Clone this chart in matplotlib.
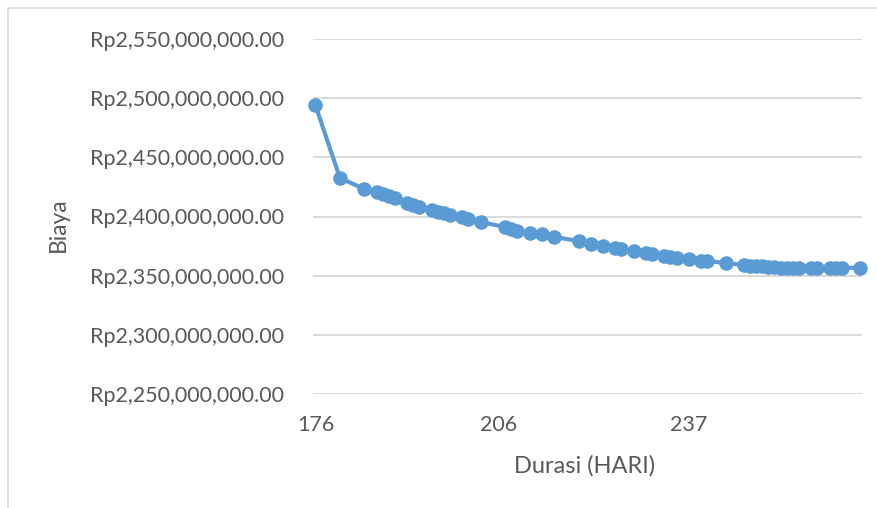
import matplotlib
matplotlib.use("Agg")
import matplotlib.pyplot as plt
from matplotlib.ticker import FuncFormatter, FixedLocator
from matplotlib.patches import Rectangle

durasi = [176, 180, 184, 186, 187, 188, 189, 191, 192, 193, 195, 196, 197, 198,
          200, 201, 203, 207, 208, 209, 211, 213, 215, 219, 221, 223, 225, 226,
          228, 230, 231, 233, 234, 235, 237, 239, 240, 243, 246, 247, 248, 249,
          250, 251, 252, 253, 254, 255, 257, 258, 260, 261, 262, 265]
biaya_juta = [2494.0, 2432.5, 2423.2, 2420.7, 2419.0, 2417.3, 2415.6, 2411.4, 2409.7,
              2408.0, 2405.5, 2403.8, 2403.0, 2401.3, 2399.6, 2397.9, 2395.3, 2391.1,
              2389.4, 2387.7, 2386.0, 2385.2, 2382.7, 2379.3, 2376.8, 2375.1, 2373.4,
              2372.5, 2370.8, 2369.2, 2368.3, 2366.6, 2365.4, 2364.9, 2364.1, 2362.4,
              2362.4, 2360.7, 2359.0, 2358.2, 2358.2, 2357.8, 2357.3, 2357.3, 2356.9,
              2356.5, 2356.5, 2356.5, 2356.5, 2356.5, 2356.5, 2356.5, 2356.5, 2356.8]
biaya = [v * 1e6 for v in biaya_juta]

x_ticks = [176, 206, 237]
y_ticks = [2.25e9, 2.30e9, 2.35e9, 2.40e9, 2.45e9, 2.50e9, 2.55e9]

W, H = 878, 508
fig = plt.figure(figsize=(W / 100, H / 100), dpi=100)
font = ["Lato", "DejaVu Sans"]
txt = "#595959"

ax = fig.add_axes([313 / W, 1 - 394 / H, (862 - 313) / W, (394 - 39) / H])
ax.plot(durasi, biaya, color="#5B9BD5", lw=3.0, marker="o", ms=10.5,
        markeredgewidth=0, solid_capstyle="round", zorder=3, clip_on=False)

ax.set_xlim(175.6, 265.3)
ax.set_ylim(2.25e9, 2.55e9)
ax.yaxis.set_major_locator(FixedLocator(y_ticks))
ax.xaxis.set_major_locator(FixedLocator(x_ticks))
ax.yaxis.set_major_formatter(FuncFormatter(lambda v, p: "Rp{:,.2f}".format(v)))
ax.grid(axis="y", color="#D9D9D9", lw=1.4, zorder=0)
for s in ax.spines.values():
    s.set_visible(False)
ax.tick_params(axis="both", length=0, labelcolor=txt, labelsize=15.5)
ax.tick_params(axis="y", pad=21)
ax.tick_params(axis="x", pad=15)
for lbl in ax.get_xticklabels() + ax.get_yticklabels():
    lbl.set_family(font)

fig.text(58 / W, 1 - 225 / H, "Biaya", rotation=90, ha="center", va="center",
         color=txt, fontsize=16.5, family=font)
fig.text(585 / W, 1 - 466 / H, "Durasi (HARI)", ha="center", va="center",
         color=txt, fontsize=17, family=font)

fig.patches.append(Rectangle((8 / W, -0.1), 1.2, 1 - 8 / H + 0.1,
                             transform=fig.transFigure, fill=False,
                             edgecolor="#D9D9D9", lw=1.2))

fig.savefig("out.png", dpi=100)
